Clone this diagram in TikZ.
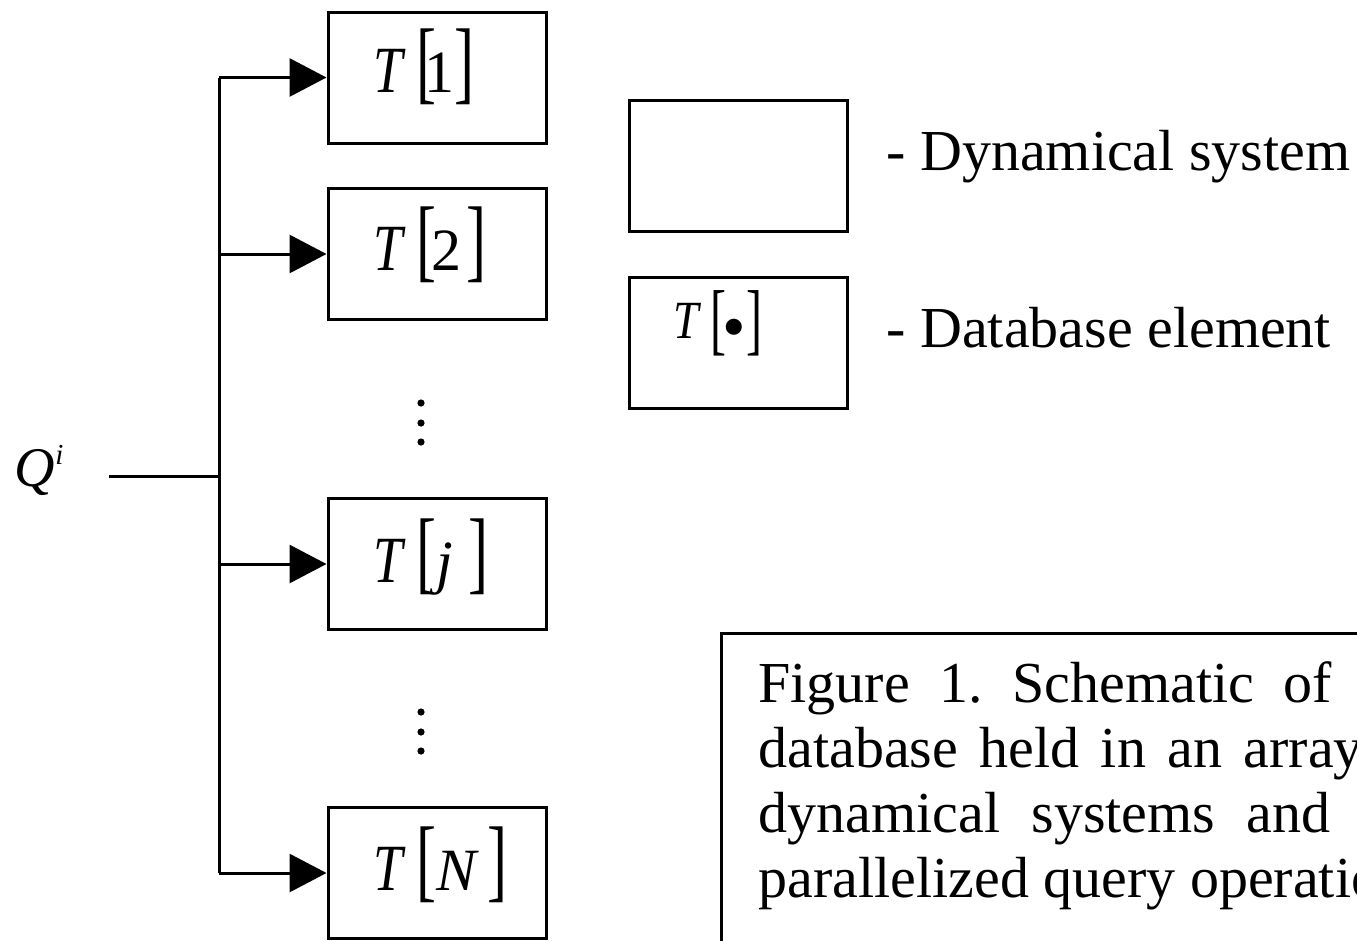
\documentclass[tikz,border=0pt]{standalone}
\usepackage{fontspec}
\setmainfont{Liberation Serif}
\usetikzlibrary{arrows.meta}
\newcommand{\lbk}{\scalebox{1}[1.53]{\upshape[}}
\newcommand{\rbk}{\scalebox{1}[1.53]{\upshape]}}
\newcommand{\Tit}{\scalebox{0.88}[1.1]{\itshape T}}
% \Tlab{kern after [}{content}{kern before ]}
\newcommand{\Tlab}[3]{\Tit\kern13.4pt\lbk\kern#1pt#2\kern#3pt\rbk}
\frenchspacing
\begin{document}
\begin{tikzpicture}[x=1pt,y=-1pt,line width=3pt,
  dsbox/.style={draw,rectangle,minimum width=218pt,minimum height=131pt,inner sep=0pt},
  lab/.style={anchor=base west,inner sep=0pt,font=\fontsize{60}{70}\selectfont},
  legtxt/.style={anchor=base west,inner sep=0pt,font=\fontsize{58}{68}\selectfont},
  arr/.style={-{Triangle[length=37pt,width=38pt]}},
  dotc/.style={fill=black,draw=none}]
\useasboundingbox (0,0) rectangle (1357,940);
\clip (0,0) rectangle (1357,940);
% database boxes
\node[dsbox] (b1) at (437,77.5) {};
\node[dsbox] (b2) at (437,254) {};
\node[dsbox] (bj) at (437,564) {};
\node[dsbox] (bN) at (437,873) {};
\node[lab] (l1) at (372,92) {\Tlab{-11.4}{1}{0}};
\node[lab] (l2) at (372,270) {\Tlab{-4.5}{2}{4.8}};
\node[lab] (lj) at (372,582) {\Tlab{0}{\itshape j}{15.3}};
\node[lab] (lN) at (372,890) {\Tlab{0}{\itshape N}{11.4}};
% vertical ellipses
\foreach \yy in {403,423,442,712,732,751} \fill[dotc] (421,\yy) circle (3.6pt);
% query input
\node[inner sep=0pt,anchor=base west,font=\fontsize{56}{60}\selectfont] (Q) at (12.5,486)
  {\itshape Q\kern1pt\raisebox{22pt}{\fontsize{29}{32}\selectfont i}};
\coordinate (qin) at (109,476);
\coordinate (qjoin) at (219,476);
\coordinate (bus1) at (219,77.5);
\coordinate (bus2) at (219,254);
\coordinate (busj) at (219,564);
\coordinate (busN) at (219,873);
\draw (qin) -- (qjoin);
\draw (bus1) -- (busN);
\draw[arr] (bus1) -- (b1.west);
\draw[arr] (bus2) -- (b2.west);
\draw[arr] (busj) -- (bj.west);
\draw[arr] (busN) -- (bN.west);
% legend
\node[dsbox] (lg1) at (738.5,166) {};
\node[dsbox] (lg2) at (738.5,343) {};
\node[inner sep=0pt,anchor=base west,font=\fontsize{48}{52}\selectfont] (lgT) at (672.2,338)
  {\scalebox{0.95}[1.12]{\itshape T}\kern11.9pt\raisebox{-7.6pt}{\scalebox{1}[1.65]{[}}\kern-4.2pt\raisebox{-11pt}{\scalebox{1.4}{\textbullet}}\kern0.3pt\raisebox{-7.6pt}{\scalebox{1}[1.65]{]}}};
\node[legtxt] (lt1) at (885,170) {- Dynamical system};
\node[legtxt] (lt2) at (885,347) {- Database element};
% caption
\node[draw,anchor=north west,text width=674pt,inner xsep=37pt,inner ysep=28pt,align=justify,
  font=\fontsize{58}{65}\selectfont] (cap) at (720,632)
  {Figure 1. Schematic of the\linebreak database held in an array of\linebreak dynamical systems and the\linebreak parallelized query operation.\par\hbox{\rule{0pt}{80pt}}};
\end{tikzpicture}
\end{document}
